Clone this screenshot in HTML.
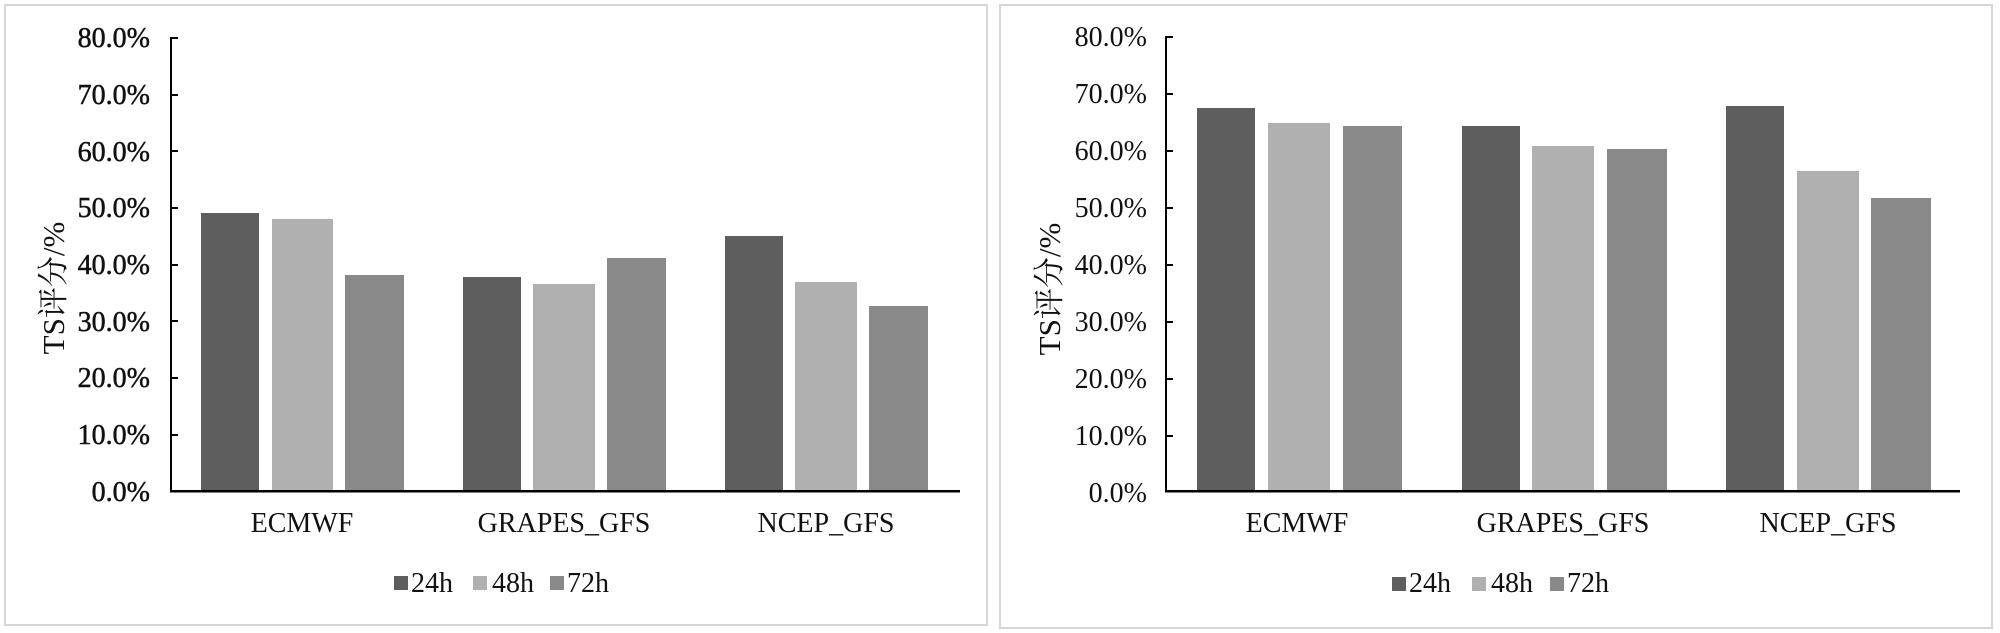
<!DOCTYPE html>
<html><head><meta charset="utf-8"><style>
html,body{margin:0;padding:0;background:#fff;}
svg{display:block;}
text{font-family:"Liberation Serif","Noto Serif CJK SC",serif;fill:#111;}
</style></head><body>
<svg width="2000" height="633" viewBox="0 0 2000 633" xmlns="http://www.w3.org/2000/svg">
<rect x="5" y="5" width="982" height="620" fill="#fff" stroke="#d6d6d6" stroke-width="2"/>
<rect x="1000" y="5" width="992" height="623" fill="#fff" stroke="#d6d6d6" stroke-width="2"/>

<!-- LEFT CHART -->
<g font-size="28" text-anchor="end" stroke="#111" stroke-width="0.5">
<text x="150" y="47">80.0%</text>
<text x="150" y="104">70.0%</text>
<text x="150" y="161">60.0%</text>
<text x="150" y="217">50.0%</text>
<text x="150" y="274">40.0%</text>
<text x="150" y="331">30.0%</text>
<text x="150" y="387">20.0%</text>
<text x="150" y="444">10.0%</text>
<text x="150" y="501">0.0%</text>
</g>
<text transform="translate(64,288) rotate(-90)" font-size="31" text-anchor="middle">TS评分/%</text>
<g fill="#000">
<rect x="170" y="37" width="2" height="455"/>
<rect x="170" y="490" width="790" height="2.5"/>
<rect x="172" y="37" width="6" height="2"/><rect x="172" y="94" width="6" height="2"/><rect x="172" y="150" width="6" height="2"/><rect x="172" y="207" width="6" height="2"/><rect x="172" y="264" width="6" height="2"/><rect x="172" y="320" width="6" height="2"/><rect x="172" y="377" width="6" height="2"/><rect x="172" y="434" width="6" height="2"/>
</g>
<g>
<rect x="201" y="213" width="58" height="277" fill="#5e5e5e"/>
<rect x="272" y="219" width="61" height="271" fill="#b0b0b0"/>
<rect x="345" y="275" width="59" height="215" fill="#898989"/>
<rect x="463" y="277" width="58" height="213" fill="#5e5e5e"/>
<rect x="533" y="284" width="62" height="206" fill="#b0b0b0"/>
<rect x="607" y="258" width="59" height="232" fill="#898989"/>
<rect x="725" y="236" width="58" height="254" fill="#5e5e5e"/>
<rect x="795" y="282" width="62" height="208" fill="#b0b0b0"/>
<rect x="869" y="306" width="59" height="184" fill="#898989"/>
</g>
<g font-size="28" text-anchor="middle">
<text x="302" y="532">ECMWF</text>
<text x="564" y="532">GRAPES_GFS</text>
<text x="826" y="532">NCEP_GFS</text>
</g>
<rect x="394" y="576" width="14" height="14" fill="#5e5e5e"/>
<text x="411" y="592" font-size="28">24h</text>
<rect x="473" y="576" width="14" height="14" fill="#b0b0b0"/>
<text x="492" y="592" font-size="28">48h</text>
<rect x="550" y="576" width="14" height="14" fill="#898989"/>
<text x="567" y="592" font-size="28">72h</text>

<!-- RIGHT CHART -->
<g font-size="28" text-anchor="end">
<text x="1147" y="46">80.0%</text>
<text x="1147" y="103">70.0%</text>
<text x="1147" y="160">60.0%</text>
<text x="1147" y="217">50.0%</text>
<text x="1147" y="274">40.0%</text>
<text x="1147" y="331">30.0%</text>
<text x="1147" y="388">20.0%</text>
<text x="1147" y="445">10.0%</text>
<text x="1147" y="502">0.0%</text>
</g>
<text transform="translate(1060,289) rotate(-90)" font-size="31" text-anchor="middle">TS评分/%</text>
<g fill="#000">
<rect x="1165" y="36" width="2" height="456"/>
<rect x="1165" y="490" width="795" height="2.5"/>
<rect x="1167" y="36" width="6" height="2"/><rect x="1167" y="93" width="6" height="2"/><rect x="1167" y="150" width="6" height="2"/><rect x="1167" y="207" width="6" height="2"/><rect x="1167" y="264" width="6" height="2"/><rect x="1167" y="321" width="6" height="2"/><rect x="1167" y="378" width="6" height="2"/><rect x="1167" y="435" width="6" height="2"/>
</g>
<g>
<rect x="1197" y="108" width="58" height="382" fill="#5e5e5e"/>
<rect x="1268" y="123" width="62" height="367" fill="#b0b0b0"/>
<rect x="1343" y="126" width="59" height="364" fill="#898989"/>
<rect x="1462" y="126" width="58" height="364" fill="#5e5e5e"/>
<rect x="1532" y="146" width="62" height="344" fill="#b0b0b0"/>
<rect x="1607" y="149" width="60" height="341" fill="#898989"/>
<rect x="1726" y="106" width="58" height="384" fill="#5e5e5e"/>
<rect x="1797" y="171" width="62" height="319" fill="#b0b0b0"/>
<rect x="1871" y="198" width="60" height="292" fill="#898989"/>
</g>
<g font-size="28" text-anchor="middle">
<text x="1297" y="532">ECMWF</text>
<text x="1563" y="532">GRAPES_GFS</text>
<text x="1828" y="532">NCEP_GFS</text>
</g>
<rect x="1392" y="577" width="14" height="14" fill="#5e5e5e"/>
<text x="1409" y="592" font-size="28">24h</text>
<rect x="1472" y="577" width="14" height="14" fill="#b0b0b0"/>
<text x="1491" y="592" font-size="28">48h</text>
<rect x="1550" y="577" width="14" height="14" fill="#898989"/>
<text x="1567" y="592" font-size="28">72h</text>
</svg>
</body></html>
